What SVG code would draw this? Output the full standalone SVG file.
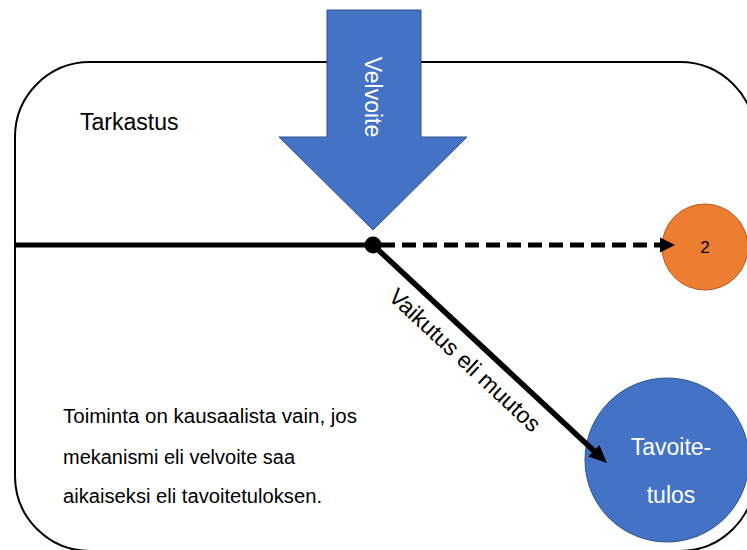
<svg xmlns="http://www.w3.org/2000/svg" width="747" height="550" viewBox="0 0 747 550">
  <defs>
    <style>
      .txt { font-family: "Liberation Sans", Arial, sans-serif; fill: #000; }
      .wtxt { font-family: "Liberation Sans", Arial, sans-serif; fill: #fff; }
      .blue { fill: #4472C4; stroke: #2F528F; stroke-width: 1; }
      .conn { stroke: #000; fill: none; }
    </style>
    <marker id="headBig" markerUnits="userSpaceOnUse" markerWidth="20" markerHeight="20" viewBox="0 0 20 20" refX="0" refY="10" orient="auto">
      <path d="M0,2 L18,10 L0,18 z" fill="#000"/>
    </marker>
    <marker id="headSmall" markerUnits="userSpaceOnUse" markerWidth="20" markerHeight="20" viewBox="0 0 20 20" refX="0" refY="10" orient="auto">
      <path d="M0,2.5 L15,10 L0,17.5 z" fill="#000"/>
    </marker>
  </defs>
  <rect width="747" height="550" fill="#fff"/>

  <g id="tarkastus">
    <rect x="15" y="62" width="740" height="489" rx="75" ry="75" fill="none" stroke="#000" stroke-width="2"/>
    <text class="txt" x="80" y="130" font-size="23">Tarkastus</text>
  </g>

  <g id="velvoite">
    <polygon class="blue" points="327,10 421,10 421,137 467,137 373,230 279,137 327,137"/>
    <text class="wtxt" x="373" y="97" font-size="23" text-anchor="middle" dominant-baseline="central" transform="rotate(90 373 97)">Velvoite</text>
  </g>

  <g id="node2">
    <circle cx="705" cy="247" r="43" fill="#ED7D31" stroke="#AE5A21" stroke-width="1"/>
    <text class="txt" x="705" y="253" font-size="17" text-anchor="middle">2</text>
  </g>

  <g id="tavoitetulos">
    <circle class="blue" cx="667" cy="460" r="82"/>
    <text class="wtxt" x="671" y="455" font-size="23" text-anchor="middle">Tavoite-</text>
    <text class="wtxt" x="671" y="503" font-size="23" text-anchor="middle">tulos</text>
  </g>

  <g id="selite">
    <text class="txt" x="63" y="423" font-size="20" textLength="294" lengthAdjust="spacingAndGlyphs">Toiminta on kausaalista vain, jos</text>
    <text class="txt" x="63" y="464" font-size="20" textLength="232" lengthAdjust="spacingAndGlyphs">mekanismi eli velvoite saa</text>
    <text class="txt" x="63" y="503" font-size="20" textLength="259" lengthAdjust="spacingAndGlyphs">aikaiseksi eli tavoitetuloksen.</text>
  </g>

  <g id="connectors">
    <line class="conn" x1="15" y1="245" x2="373" y2="245" stroke-width="5"/>
    <line class="conn" x1="381" y1="245" x2="660" y2="245" stroke-width="5" stroke-dasharray="14 7" marker-end="url(#headSmall)"/>
    <line class="conn" x1="373" y1="245" x2="593.8" y2="450.7" stroke-width="5.5" marker-end="url(#headBig)"/>
    <circle cx="373" cy="245" r="8.5" fill="#000"/>
    <text class="txt" x="465" y="360" font-size="23" text-anchor="middle" dominant-baseline="central" transform="rotate(43 465 360)">Vaikutus eli muutos</text>
  </g>
</svg>
